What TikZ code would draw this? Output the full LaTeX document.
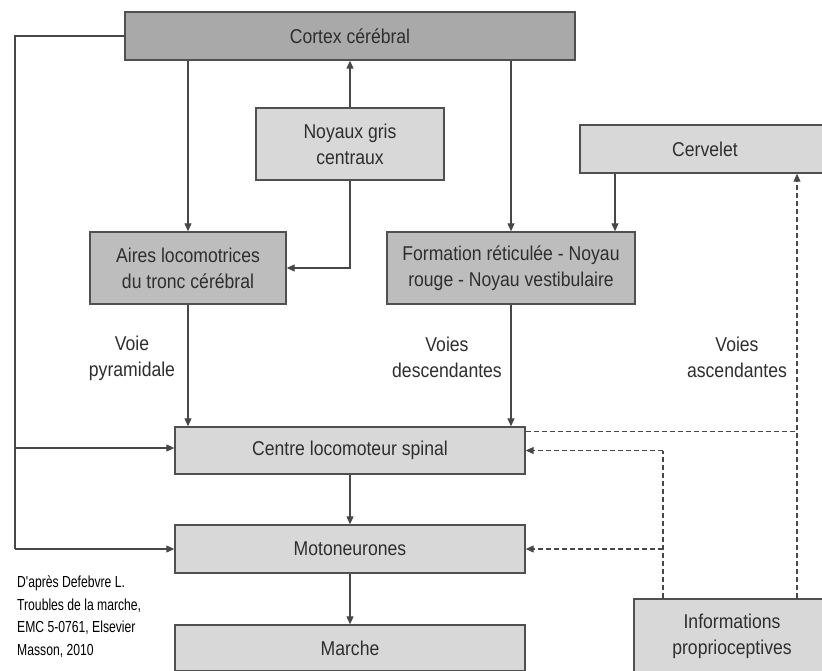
\documentclass[tikz,border=0pt]{standalone}
\usepackage{fontspec}
\setmainfont{Liberation Sans}
\newfontfamily\boxfont[FakeStretch=0.88]{Liberation Sans}
\newfontfamily\citefont[FakeStretch=0.76]{Liberation Sans}
\usetikzlibrary{arrows.meta}
\definecolor{darkfill}{HTML}{A9A9A9}
\definecolor{midfill}{HTML}{BDBDBD}
\definecolor{lightfill}{HTML}{D8D8D8}
\definecolor{boxline}{HTML}{505050}
\definecolor{wire}{HTML}{474747}
\definecolor{txt}{HTML}{2E2E2E}
\begin{document}
\begin{tikzpicture}[x=1pt,y=-1pt,
  box/.style={draw=boxline, line width=1.4pt, inner sep=0pt, align=center,
    font=\boxfont\fontsize{20}{26}\selectfont, text=txt},
  darkbox/.style={box, fill=darkfill},
  midbox/.style={box, fill=midfill},
  lightbox/.style={box, fill=lightfill},
  wireline/.style={draw=wire, line width=1.1pt},
  arr/.style={wireline, -{Triangle[length=8pt,width=7pt]}},
  dline/.style={wireline, dash pattern=on 5pt off 3pt},
  darr/.style={dline, -{Triangle[length=8pt,width=7pt]}},
  lbl/.style={align=center, font=\boxfont\fontsize{20}{26}\selectfont, text=txt, inner sep=0pt}
]
\fill[white] (0,0) rectangle (822,670);
\useasboundingbox (0,0) rectangle (822,670);

% boxes
\node[darkbox, minimum width=450pt, minimum height=48pt] (cortex) at (350,36) {Cortex cérébral};
\node[lightbox, minimum width=188pt, minimum height=72pt] (noyaux) at (350,144) {Noyaux gris\\centraux};
\node[midbox, minimum width=196pt, minimum height=72pt] (aires) at (188,268) {Aires locomotrices\\du tronc cérébral};
\node[midbox, minimum width=248pt, minimum height=72pt] (form) at (511,268) {Formation réticulée - Noyau\\rouge - Noyau vestibulaire};
\node[lightbox, minimum width=250pt, minimum height=48pt] (cerv) at (705,149) {Cervelet};
\node[lightbox, minimum width=350pt, minimum height=47pt] (centre) at (350,450.5) {Centre locomoteur spinal};
\node[lightbox, minimum width=350pt, minimum height=48pt] (moto) at (350,549) {Motoneurones};
\node[lightbox, minimum width=350pt, minimum height=46pt] (marche) at (350,648) {Marche};
\node[lightbox, minimum width=196pt, minimum height=74pt] (infos) at (732,636) {Informations\\proprioceptives};

% labels
\node[lbl] (lpyr) at (132,358) {Voie\\pyramidale};
\node[lbl] (ldesc) at (447,357) {Voies\\descendantes};
\node[lbl] (lasc) at (737,357) {Voies\\ascendantes};

\node[anchor=north west, align=left, inner sep=0pt, text=black,
  font=\citefont\fontsize{16}{22.5}\selectfont] (cite) at (17,576)
  {D'après Defebvre L.\\Troubles de la marche,\\EMC 5-0761, Elsevier\\Masson, 2010};

% helper coordinates
\coordinate (ltop) at (15,36);
\coordinate (lbot) at (15,549);
\coordinate (lmid) at (15,448);
\coordinate (ax) at (797,0);
\coordinate (px) at (663,0);
\coordinate (cx) at (615,0);
\coordinate (cne) at ([yshift=-5pt]centre.north east);

% solid connectors
\draw[wireline] (cortex.west) -- (ltop) -- (lbot);
\draw[arr] (lbot) -- (moto.west);
\draw[arr] (lmid) -- (lmid -| centre.west);
\draw[arr] (cortex.south -| aires.north) -- (aires.north);
\draw[arr] (cortex.south -| form.north) -- (form.north);
\draw[arr] (noyaux.north) -- (noyaux.north |- cortex.south);
\draw[arr] (noyaux.south) |- (aires.east);
\draw[arr] (cerv.south -| cx) -- (form.north -| cx);
\draw[arr] (aires.south) -- (aires.south |- centre.north);
\draw[arr] (form.south) -- (form.south |- centre.north);
\draw[arr] (centre.south) -- (moto.north);
\draw[arr] (moto.south) -- (marche.north);

% dashed connectors
\draw[darr] (infos.north -| ax) -- (cerv.south -| ax);
\draw[dline] (cne) -- (cne -| ax);
\draw[dline] (infos.north -| px) -- (px |- centre.east);
\draw[darr] (px |- centre.east) -- (centre.east);
\draw[darr] (px |- moto.east) -- (moto.east);
\end{tikzpicture}
\end{document}
